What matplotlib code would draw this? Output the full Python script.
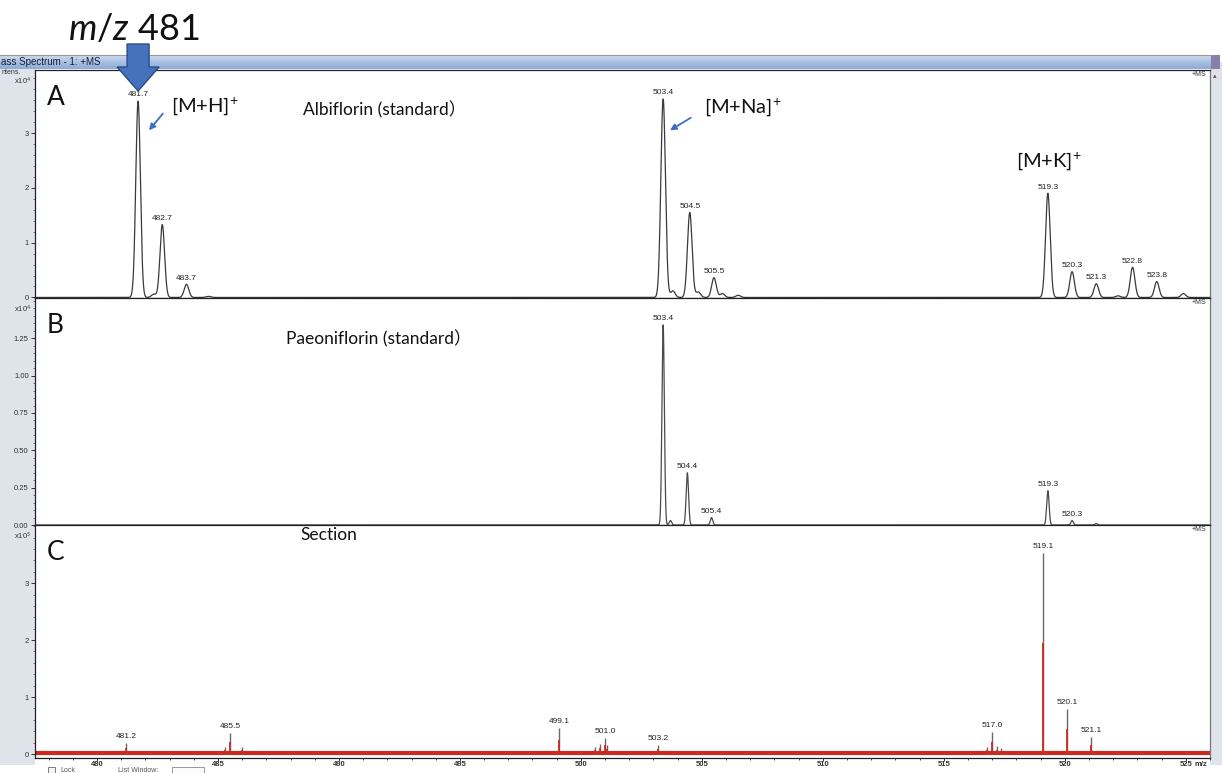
import numpy as np
import matplotlib
matplotlib.use("Agg")
import matplotlib.pyplot as plt
from matplotlib.patches import Polygon
from matplotlib.ticker import MultipleLocator, FixedLocator, FixedFormatter

FAMILY = ['Lato', 'Noto Sans CJK SC', 'DejaVu Sans']
plt.rcParams['font.family'] = FAMILY
plt.rcParams['mathtext.fontset'] = 'custom'
plt.rcParams['mathtext.rm'] = 'Lato'
plt.rcParams['mathtext.it'] = 'Lato:italic'

SMALL = ['Liberation Sans Narrow', 'Liberation Sans', 'DejaVu Sans']

# ---------------- data ----------------
# A: albiflorin standard, intensity x10^4
albi_mz = [481.7, 482.35, 482.7, 483.7, 484.6, 503.4, 503.8, 504.5, 504.85,
           505.5, 505.85, 506.5, 519.3, 520.3, 521.3, 522.2, 522.8, 523.8, 524.9]
albi_int = [3.58, 0.06, 1.33, 0.24, 0.02, 3.62, 0.12, 1.55, 0.10,
            0.36, 0.07, 0.04, 1.90, 0.47, 0.25, 0.03, 0.55, 0.29, 0.07]
albi_lab_mz = [481.7, 482.7, 483.7, 503.4, 504.5, 505.5, 519.3, 520.3, 521.3, 522.8, 523.8]
albi_lab_txt = ['481.7', '482.7', '483.7', '503.4', '504.5', '505.5',
                '519.3', '520.3', '521.3', '522.8', '523.8']

# B: paeoniflorin standard, intensity x10^4
paeo_mz = [503.4, 503.7, 504.4, 505.4, 519.3, 520.3, 521.3]
paeo_int = [1.34, 0.03, 0.35, 0.05, 0.23, 0.03, 0.01]
paeo_lab_mz = [503.4, 504.4, 505.4, 519.3, 520.3]
paeo_lab_txt = ['503.4', '504.4', '505.4', '519.3', '520.3']

# C: tissue section, intensity x10^5
sect_mz = [481.2, 485.3, 485.5, 486.0, 499.1, 500.6, 500.8, 501.0, 501.1,
           503.2, 516.8, 517.0, 517.2, 517.35, 519.1, 520.1, 521.1]
sect_int = [0.19, 0.12, 0.37, 0.12, 0.46, 0.12, 0.18, 0.28, 0.15,
            0.16, 0.12, 0.39, 0.14, 0.10, 3.53, 0.79, 0.30]
sect_lab_mz = [481.2, 485.5, 499.1, 501.0, 503.2, 517.0, 519.1, 520.1, 521.1]
sect_lab_txt = ['481.2', '485.5', '499.1', '501.0', '503.2', '517.0', '519.1', '520.1', '521.1']

x_ticks = [480, 485, 490, 495, 500, 505, 510, 515, 520, 525]
yticks_A = [0, 1, 2, 3]
yticks_B = [0.00, 0.25, 0.50, 0.75, 1.00, 1.25]
yticks_C = [0, 1, 2, 3]

XMIN, XMAX = 477.44, 526.0
W, H = 1222, 773


def profile(x, centers, heights, sigma):
    y = np.zeros_like(x)
    for c, h in zip(centers, heights):
        y += h * np.exp(-0.5 * ((x - c) / sigma) ** 2)
    return y


def frac(px_left, px_top, px_right, px_bottom):
    return [px_left / W, 1 - px_bottom / H, (px_right - px_left) / W,
            (px_bottom - px_top) / H]


fig = plt.figure(figsize=(W / 100, H / 100), dpi=100)

# background decoration: grey frame strips, window title bar, status row
bg = fig.add_axes([0, 0, 1, 1], zorder=-1)
bg.axis('off')
bg.add_patch(plt.Rectangle((0, 62), 35, 703, color='#dfe3ea', lw=0))
bg.add_patch(plt.Rectangle((1210, 62), 12, 703, color='#dfe3ea', lw=0))
grad = np.linspace(0, 1, 30).reshape(-1, 1)
bar_cmap = matplotlib.colors.LinearSegmentedColormap.from_list(
    'bar', ['#cfdcee', '#a9c0e2', '#8eabd8'])
bg.imshow(grad, cmap=bar_cmap, aspect='auto', extent=[0, 1211, 69, 55], zorder=1)
bg.add_patch(plt.Rectangle((1211, 55), 9, 14, color='#8a7fa8', lw=0, zorder=2))
bg.plot([0, 1211], [55, 55], color='#9a9a9a', lw=0.8, zorder=2)
bg.add_patch(plt.Rectangle((48, 767), 7, 6, facecolor='#f4f4f4', edgecolor='#666',
                           lw=0.6, zorder=2))
bg.text(60, 771, 'Lock', fontsize=5, family=SMALL, color='#555',
        va='center', zorder=2)
bg.text(118, 771, 'List Window:', fontsize=5, family=SMALL, color='#555',
        va='center', zorder=2)
bg.add_patch(plt.Rectangle((172, 767), 32, 6, facecolor='#fbfbfb', edgecolor='#888',
                           lw=0.6, zorder=2))
bg.set_xlim(0, W)
bg.set_ylim(H, 0)
bg.text(1, 62, 'ass Spectrum - 1: +MS', fontsize=7, family=SMALL,
        color='#1b1f2e', va='center', ha='left', zorder=2)
bg.text(2, 73, 'ntens.', fontsize=5, family=SMALL, color='#333', va='center', zorder=2)
bg.text(1215, 76, '\u25b4', fontsize=5, color='#555', ha='center', va='center', zorder=2)

axA = fig.add_axes(frac(35, 70, 1210, 298))
axB = fig.add_axes(frac(35, 298, 1210, 525))
axC = fig.add_axes(frac(35, 525, 1210, 758))

x = np.arange(XMIN, XMAX, 0.004)

# A profile
axA.plot(x, profile(x, albi_mz, albi_int, 0.095), color='#3a3a3a', lw=0.9)
axA.set_ylim(-0.01, 4.15)
# B profile
axB.plot(x, profile(x, paeo_mz, paeo_int, 0.05), color='#4a4a4a', lw=0.9)
axB.set_ylim(0, 1.52)
# C sticks over a noisy red baseline
axC.plot([XMIN, XMAX], [0.02, 0.02], color='#cc2a1e', lw=3.0, solid_capstyle='butt')
axC.vlines(sect_mz, 0, sect_int, color='#6a6a6a', lw=1.0)
axC.vlines(sect_mz, 0, [v * 0.55 for v in sect_int], color='#cc2a1e', lw=1.3)
axC.set_ylim(-0.07, 4.02)


def label_peaks(ax, mzs, txts, centers, heights, sigma=None, stick=False):
    for m, t in zip(mzs, txts):
        if stick:
            h = heights[centers.index(m)]
        else:
            h = profile(np.array([m]), centers, heights, sigma)[0]
        ax.annotate(t, (m, h), xytext=(0, 2.0), textcoords='offset points',
                    ha='center', va='bottom', fontsize=6, family=SMALL, color='#222')


label_peaks(axA, albi_lab_mz, albi_lab_txt, albi_mz, albi_int, 0.095)
label_peaks(axB, paeo_lab_mz, paeo_lab_txt, paeo_mz, paeo_int, 0.05)
label_peaks(axC, sect_lab_mz, sect_lab_txt, sect_mz, sect_int, stick=True)

for ax, yt, fmt, mn, exp_txt in [
        (axA, yticks_A, '{:.0f}', 0.2, r'x10$^4$'),
        (axB, yticks_B, '{:.2f}', 0.05, r'x10$^4$'),
        (axC, yticks_C, '{:.0f}', 0.2, r'x10$^5$')]:
    ax.set_xlim(XMIN, XMAX)
    ax.yaxis.set_major_locator(FixedLocator(yt))
    ax.yaxis.set_major_formatter(FixedFormatter([fmt.format(v) for v in yt]))
    ax.yaxis.set_minor_locator(MultipleLocator(mn))
    ax.tick_params(axis='y', which='major', labelsize=5.5, length=3, width=0.7,
                   colors='#333', pad=1.5)
    ax.tick_params(axis='y', which='minor', length=1.5, width=0.5, colors='#444')
    for lbl in ax.get_yticklabels():
        lbl.set_family(SMALL)
    for s in ax.spines.values():
        s.set_color('#222')
        s.set_linewidth(0.9)
    ax.spines['right'].set_color('#777')
    ax.annotate(exp_txt, (0, 1), xycoords='axes fraction', xytext=(-2.5, -3.5),
                textcoords='offset points', fontsize=5.5, ha='right', va='top',
                color='#333', family=SMALL)
    ax.text(0.997, 0.995, '+MS', transform=ax.transAxes, fontsize=5,
            ha='right', va='top', color='#333', family=SMALL)

for ax in (axA, axB):
    ax.set_xticks([])

axC.xaxis.set_major_locator(FixedLocator(x_ticks))
axC.xaxis.set_major_formatter(FixedFormatter([str(v) for v in x_ticks]))
axC.xaxis.set_minor_locator(MultipleLocator(1))
axC.tick_params(axis='x', which='major', labelsize=5.5, length=2, width=0.7,
                colors='#333', pad=0.5)
axC.tick_params(axis='x', which='minor', length=1.2, width=0.5)
for lbl in axC.get_xticklabels():
    lbl.set_family(SMALL)
    lbl.set_fontweight('bold')
axC.annotate('m/z', (525.35, 0), xycoords=('data', 'axes fraction'), xytext=(0, -2.5),
             textcoords='offset points', fontsize=5.5, family=SMALL, fontweight='bold',
             color='#333', ha='left', va='top')

# panel letters and captions
for ax, letter in [(axA, 'A'), (axB, 'B'), (axC, 'C')]:
    ax.text(0.0102, 0.88, letter, transform=ax.transAxes, fontsize=19,
            ha='left', va='center', color='#111')

axA.text(483.05, 3.5, r'[M+H]$^{+}$', fontsize=14.5, ha='left', va='center', color='#111')
axA.text(488.5, 3.42, 'Albiflorin (standard\uff09', fontsize=12.5, ha='left',
         va='center', color='#111')
axA.text(505.1, 3.47, r'[M+Na]$^{+}$', fontsize=14.5, ha='left', va='center', color='#111')
axA.text(518.0, 2.49, r'[M+K]$^{+}$', fontsize=14.5, ha='left', va='center', color='#111')
axB.text(487.8, 1.25, 'Paeoniflorin (standard\uff09', fontsize=12.5, ha='left',
         va='center', color='#111')
axC.text(488.4, 3.85, 'Section', fontsize=12.5, ha='left', va='center', color='#111')

arrow_kw = dict(arrowstyle='-|>', color='#3f6fc0', lw=1.3, mutation_scale=9,
                shrinkA=0, shrinkB=0)
axA.annotate('', xy=(482.15, 3.05), xytext=(10, 12), textcoords='offset points',
             arrowprops=arrow_kw)
axA.annotate('', xy=(503.68, 3.05), xytext=(15, 9), textcoords='offset points',
             arrowprops=arrow_kw)

# big callout arrow above the protonated albiflorin peak
ov = fig.add_axes([0, 0, 1, 1], zorder=10)
ov.set_xlim(0, W)
ov.set_ylim(H, 0)
ov.axis('off')
cx = axA.transData.transform((481.7, 0))[0]
arrow_pts = [(cx - 11, 44), (cx + 11, 44), (cx + 11, 67), (cx + 21, 67),
             (cx, 91), (cx - 21, 67), (cx - 11, 67)]
ov.add_patch(Polygon(arrow_pts, closed=True, facecolor='#4672bb',
                     edgecolor='#2b4c85', lw=1.0))
ov.text(68, 29, r'$\mathit{m/z}$ 481', fontsize=26, ha='left', va='center',
        color='#111')

fig.savefig('out.png', dpi=100)
